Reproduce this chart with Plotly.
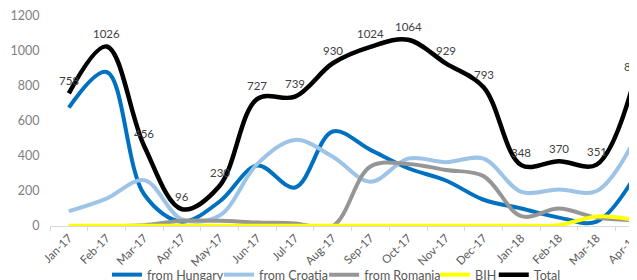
import plotly.graph_objects as go

months = ["Jan-17", "Feb-17", "Mar-17", "Apr-17", "May-17", "Jun-17", "Jul-17", "Aug-17",
          "Sep-17", "Oct-17", "Nov-17", "Dec-17", "Jan-18", "Feb-18", "Mar-18", "Apr-18"]
hungary = [676, 880, 180, 25, 140, 345, 220, 540, 435, 330, 260, 150, 100, 48, 25, 280]
croatia = [85, 157, 262, 38, 60, 355, 492, 396, 253, 385, 365, 385, 195, 209, 200, 490]
romania = [0, 0, 5, 30, 30, 20, 15, 0, 340, 355, 320, 285, 56, 100, 48, 33]
bih = [2, 2, 2, 2, 2, 2, 2, 2, 2, 2, 2, 2, 2, 5, 55, 35]
total = [758, 1026, 456, 96, 230, 727, 739, 930, 1024, 1064, 929, 793, 348, 370, 351, 835]

FONT = "Lato"
fig = go.Figure()

series = [
    ("from Hungary", hungary, "#0070C0", 4, "legend", 0.097),
    ("from Croatia", croatia, "#9DC3E6", 4, "legend2", 0.288),
    ("from Romania", romania, "#969696", 4, "legend3", 0.467),
    ("BIH", bih, "#FFFF00", 4, "legend4", 0.656),
    ("Total", total, "#000000", 4.5, "legend5", 0.756),
]
legend_defs = {}
for name, vals, color, w, lg, lx in series:
    fig.add_trace(go.Scatter(
        x=months, y=vals, name=name, mode="lines", legend=lg,
        line=dict(color=color, width=w, shape="spline", smoothing=1.0),
    ))
    legend_defs[lg] = dict(
        orientation="h", x=lx, xanchor="left",
        yref="container", y=0, yanchor="bottom",
        font=dict(family=FONT, size=12.5, color="#595959"),
        itemwidth=30, bgcolor="rgba(0,0,0,0)",
    )

for m, v in zip(months, total):
    fig.add_annotation(
        x=m, y=v, text=str(v), showarrow=False, yshift=13,
        font=dict(family=FONT, size=11.5, color="#404040"),
    )

# page body has an 8px default margin, so the figure is offset by 8px in the window
fig.update_layout(
    width=629, height=282,
    margin=dict(l=42, r=0, t=8, b=64),
    paper_bgcolor="white", plot_bgcolor="white",
    font=dict(family=FONT, size=12, color="#7F7F7F"),
    showlegend=True,
    xaxis=dict(
        type="category", range=[-0.5, 15.07], automargin=False,
        tickangle=-45, tickson="boundaries", ticks="outside", ticklen=4,
        tickcolor="#D9D9D9", showline=True, linecolor="#D9D9D9", linewidth=1,
        showgrid=False, zeroline=False,
        tickfont=dict(family=FONT, size=11.5, color="#595959"),
    ),
    yaxis=dict(
        range=[0, 1200], dtick=200, showgrid=False, zeroline=False,
        showline=False, ticks="outside", ticklen=7, tickcolor="rgba(0,0,0,0)",
        automargin=False,
        tickfont=dict(family=FONT, size=12.5, color="#7F7F7F"),
    ),
    **legend_defs,
)

fig.write_html("out.html")
